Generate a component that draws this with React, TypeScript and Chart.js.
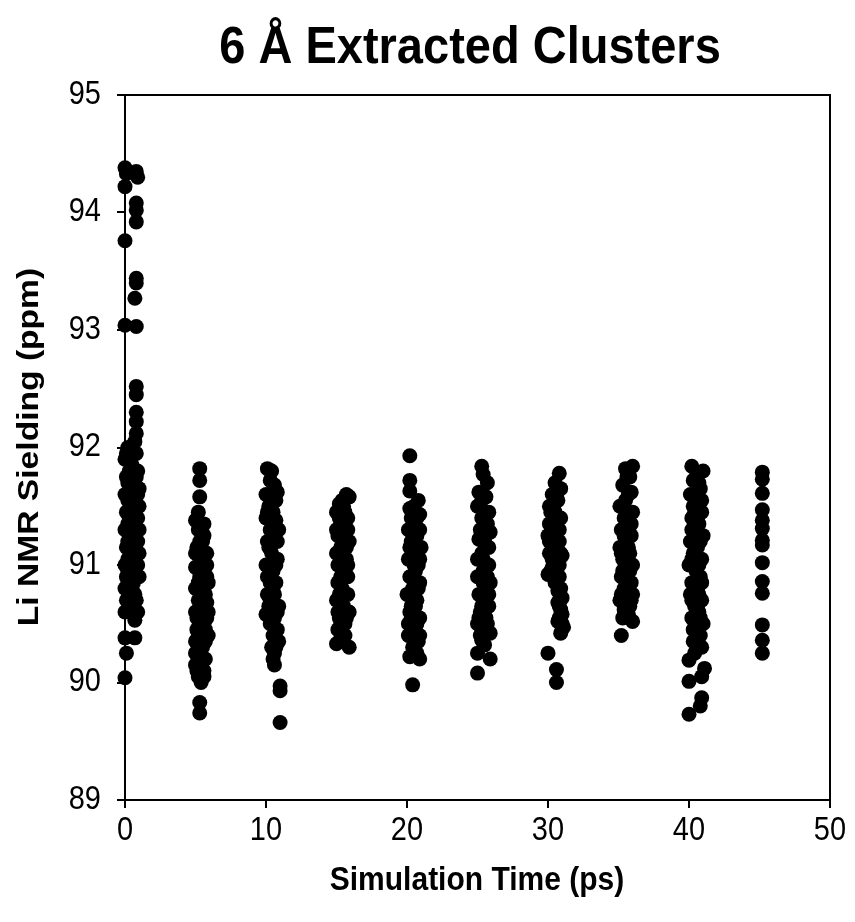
import React, { useEffect, useRef } from "react";
import { Chart, registerables } from "chart.js";

Chart.register(...registerables);

const TITLE = "6 Å Extracted Clusters";
const X_TITLE = "Simulation Time (ps)";
const Y_TITLE = "Li NMR Sielding (ppm)";

const X_MIN = 0;
const X_MAX = 50;
const X_STEP = 10;
const Y_MIN = 89;
const Y_MAX = 95;
const Y_STEP = 1;

type P = [number, number];

const cluster0: P[] = [
  [0.0, 94.38], [0.1, 94.33], [0.8, 94.35], [0.9, 94.3], [0.0, 94.22], [0.8, 94.08],
  [0.8, 94.02], [0.8, 93.92], [0.0, 93.76], [0.8, 93.44], [0.8, 93.4], [0.7, 93.27],
  [0.0, 93.04], [0.8, 93.03], [0.8, 92.52], [0.8, 92.45], [0.8, 92.3], [0.8, 92.22],
  [0.8, 92.12], [0.7, 92.05], [0.8, 91.95],
  [0.0, 91.9], [0.0, 91.6], [0.0, 91.3], [0.0, 91.0], [0.0, 90.8], [0.0, 90.6],
  [0.0, 90.38], [0.1, 90.25], [0.0, 90.04],
  [0.1, 91.75], [0.1, 91.45], [0.1, 91.15], [0.1, 90.9], [0.1, 90.7],
  [0.2, 92.0], [0.2, 91.55], [0.2, 91.2], [0.2, 90.85],
  [0.3, 91.8], [0.3, 91.4], [0.3, 91.05], [0.3, 90.75],
  [0.4, 91.65], [0.4, 91.25], [0.4, 90.95],
  [0.5, 91.85], [0.5, 91.5], [0.5, 91.1], [0.5, 90.8],
  [0.6, 91.7], [0.6, 91.35], [0.6, 91.0], [0.6, 90.65],
  [0.7, 91.6], [0.7, 91.2], [0.7, 90.9], [0.7, 90.53],
  [0.8, 91.5], [0.8, 91.1], [0.8, 90.7], [0.7, 90.38],
  [0.9, 91.8], [0.9, 91.4], [0.9, 91.0], [0.9, 90.6],
  [1.0, 91.65], [1.0, 91.3], [1.0, 90.9],
  [0.2, 91.7], [0.4, 91.9], [0.6, 91.95], [0.3, 91.6], [0.5, 91.3], [0.9, 91.6],
  [0.2, 90.95], [0.4, 90.7], [1.0, 91.1], [0.6, 90.85], [0.3, 90.6], [0.5, 90.65],
  [0.9, 91.2], [0.1, 91.95], [0.8, 91.75], [0.4, 91.45], [0.2, 91.35], [0.7, 91.45],
  [0.6, 91.15], [1.0, 91.5],
  [0.3, 91.25], [0.5, 90.95], [0.7, 91.05], [0.4, 91.1], [0.6, 91.55], [0.2, 91.05],
  [0.8, 91.3], [0.5, 91.7], [0.3, 90.9], [0.7, 90.75],
];

const cluster5: P[] = [
  [5.3, 91.82], [5.3, 91.72], [5.3, 91.58], [5.0, 91.38], [5.6, 91.35], [5.2, 91.3],
  [5.5, 91.2], [5.1, 91.15], [5.8, 91.1], [5.4, 91.05], [5.0, 90.98], [5.6, 90.95],
  [5.3, 90.9], [5.9, 90.85], [5.1, 90.8], [5.5, 90.75], [5.2, 90.7], [5.8, 90.68],
  [5.0, 90.6], [5.4, 90.58], [5.6, 90.5], [5.1, 90.45], [5.3, 90.42], [5.9, 90.4],
  [5.0, 90.35], [5.5, 90.3], [5.2, 90.25], [5.7, 90.2], [5.3, 90.15], [5.1, 90.1],
  [5.6, 90.05], [5.4, 90.0], [5.3, 89.83], [5.3, 89.74], [5.7, 91.0], [5.2, 91.12],
  [5.8, 90.55], [5.0, 90.25],
  [5.2, 91.45], [5.4, 91.3], [5.6, 91.25], [5.0, 91.1], [5.8, 90.9], [5.2, 90.85],
  [5.5, 90.9], [5.0, 90.8], [5.7, 90.75], [5.3, 90.65], [5.9, 90.6], [5.1, 90.55],
  [5.5, 90.45], [5.7, 90.35], [5.2, 90.4], [5.4, 90.2], [5.0, 90.15], [5.6, 90.1],
  [5.2, 90.05], [5.5, 90.55], [5.8, 91.0], [5.4, 91.15],
  [5.3, 91.2], [5.6, 90.65], [5.4, 90.8], [5.3, 90.3], [5.7, 90.45], [5.5, 91.05],
];

const cluster10: P[] = [
  [10.1, 91.82], [10.3, 91.72], [10.6, 91.68], [10.8, 91.62], [10.0, 91.6], [10.2, 91.5],
  [10.5, 91.45], [10.0, 91.4], [10.7, 91.38], [10.3, 91.3], [10.1, 91.2], [10.6, 91.22],
  [10.4, 91.1], [10.8, 91.05], [10.0, 91.0], [10.5, 90.95], [10.2, 90.9], [10.7, 90.85],
  [10.1, 90.75], [10.4, 90.7], [10.9, 90.65], [10.0, 90.58], [10.6, 90.55], [10.3, 90.5],
  [10.8, 90.45], [10.5, 90.4], [10.9, 90.35], [10.7, 90.3], [10.5, 90.2], [10.6, 90.15],
  [11.0, 89.97], [11.0, 89.93], [11.0, 89.66], [10.2, 91.0], [10.9, 91.3],
  [10.4, 91.8], [10.7, 91.55], [10.3, 91.6], [10.1, 91.45], [10.6, 91.35], [10.8, 91.2],
  [10.2, 91.15], [10.5, 91.05], [10.7, 91.0], [10.3, 90.85], [10.6, 90.75], [10.2, 90.65],
  [10.8, 90.6], [10.4, 90.6], [10.5, 90.5], [10.7, 90.45], [10.4, 90.3], [10.6, 90.25],
  [10.8, 90.35], [10.1, 90.9],
  [10.4, 91.4], [10.3, 91.15], [10.5, 90.8], [10.3, 90.7],
];

const cluster15: P[] = [
  [15.7, 91.6], [15.9, 91.58], [15.2, 91.52], [15.5, 91.5], [15.0, 91.45], [15.8, 91.4],
  [15.3, 91.35], [15.6, 91.3], [15.1, 91.25], [15.9, 91.2], [15.4, 91.15], [15.0, 91.1],
  [15.7, 91.05], [15.2, 91.0], [15.5, 90.95], [15.8, 90.9], [15.1, 90.85], [15.4, 90.8],
  [15.6, 90.75], [15.0, 90.7], [15.3, 90.65], [15.9, 90.6], [15.2, 90.55], [15.6, 90.5],
  [15.1, 90.45], [15.4, 90.4], [15.0, 90.33], [15.9, 90.3], [15.5, 91.2], [15.3, 90.9],
  [15.4, 91.55], [15.6, 91.45], [15.2, 91.4], [15.8, 91.3], [15.0, 91.3], [15.3, 91.15],
  [15.7, 91.15], [15.1, 91.0], [15.5, 91.05], [15.8, 90.75], [15.2, 90.75], [15.5, 90.65],
  [15.7, 90.55], [15.3, 90.5], [15.6, 90.4], [15.2, 90.35], [15.8, 91.0], [15.1, 90.6],
];

const cluster20: P[] = [
  [20.2, 91.93], [20.2, 91.72], [20.2, 91.63], [20.8, 91.55], [20.2, 91.48], [20.9, 91.43],
  [20.5, 91.38], [20.1, 91.3], [20.7, 91.25], [20.3, 91.2], [21.0, 91.15], [20.4, 91.1],
  [20.1, 91.05], [20.8, 91.0], [20.6, 90.95], [20.2, 90.9], [20.9, 90.85], [20.4, 90.8],
  [20.0, 90.75], [20.7, 90.7], [20.3, 90.65], [20.5, 90.6], [20.9, 90.55], [20.1, 90.5],
  [20.6, 90.45], [20.3, 90.4], [20.8, 90.35], [20.4, 90.3], [20.2, 90.22], [20.9, 90.2],
  [20.4, 89.98], [20.6, 91.1], [20.3, 90.55],
  [20.5, 91.5], [20.3, 91.4], [20.6, 91.3], [20.9, 91.3], [20.2, 91.15], [20.5, 91.0],
  [20.8, 90.8], [20.3, 90.75], [20.6, 90.65], [20.2, 90.6], [20.7, 90.5], [20.4, 90.45],
  [20.9, 90.4], [20.5, 90.35], [20.7, 90.25], [20.1, 90.4], [20.4, 90.9], [20.9, 91.05],
  [20.6, 90.85], [20.5, 91.2], [20.7, 91.4],
];

const cluster25: P[] = [
  [25.3, 91.84], [25.4, 91.77], [25.7, 91.7], [25.1, 91.62], [25.6, 91.58], [25.0, 91.5],
  [25.8, 91.45], [25.3, 91.4], [25.5, 91.32], [25.9, 91.28], [25.1, 91.22], [25.6, 91.15],
  [25.3, 91.1], [25.0, 91.05], [25.8, 91.0], [25.4, 90.95], [25.2, 90.9], [25.9, 90.85],
  [25.6, 90.8], [25.1, 90.75], [25.4, 90.7], [25.8, 90.65], [25.2, 90.6], [25.6, 90.55],
  [25.0, 90.5], [25.3, 90.45], [25.9, 90.42], [25.3, 90.36], [25.0, 90.25], [25.9, 90.2],
  [25.0, 90.08], [25.5, 91.2], [25.7, 90.9],
  [25.3, 91.55], [25.6, 91.45], [25.2, 91.3], [25.7, 91.35], [25.4, 91.2], [25.8, 91.15],
  [25.2, 91.05], [25.6, 91.0], [25.4, 90.85], [25.8, 90.75], [25.3, 90.65], [25.6, 90.65],
  [25.1, 90.55], [25.5, 90.45], [25.7, 90.5], [25.2, 90.4], [25.5, 90.32], [25.0, 90.9],
  [25.5, 90.75], [25.4, 91.05],
];

const cluster30: P[] = [
  [30.8, 91.78], [30.5, 91.7], [30.9, 91.65], [30.3, 91.6], [30.7, 91.55], [30.1, 91.5],
  [30.5, 91.45], [30.9, 91.4], [30.2, 91.35], [30.6, 91.3], [30.0, 91.25], [30.8, 91.2],
  [30.4, 91.15], [30.1, 91.1], [31.0, 91.08], [30.6, 91.02], [30.3, 90.98], [30.0, 90.92],
  [30.8, 90.9], [30.5, 90.85], [30.7, 90.78], [31.0, 90.72], [30.8, 90.65], [31.0, 90.58],
  [30.7, 90.52], [31.1, 90.47], [30.9, 90.42], [30.0, 90.25], [30.6, 90.11], [30.6, 90.0],
  [30.4, 91.0], [30.9, 91.1],
  [30.6, 91.6], [30.4, 91.5], [30.2, 91.45], [30.8, 91.3], [30.4, 91.3], [30.1, 91.2],
  [30.6, 91.15], [30.3, 91.05], [30.8, 91.0], [30.2, 90.95], [30.6, 90.9], [30.5, 91.1],
  [30.9, 90.8], [30.8, 90.55], [31.0, 90.5], [30.9, 90.62], [30.7, 90.68], [30.1, 91.35],
];

const cluster35: P[] = [
  [35.5, 91.82], [36.0, 91.84], [35.8, 91.75], [35.3, 91.68], [35.9, 91.62], [35.5, 91.55],
  [35.1, 91.5], [36.0, 91.45], [35.4, 91.4], [35.7, 91.35], [35.2, 91.3], [35.9, 91.25],
  [35.5, 91.2], [35.1, 91.15], [35.8, 91.1], [35.3, 91.05], [36.0, 91.0], [35.6, 90.95],
  [35.2, 90.9], [35.9, 90.85], [35.4, 90.8], [35.7, 90.75], [35.1, 90.7], [35.8, 90.65],
  [35.5, 90.6], [36.0, 90.52], [35.2, 90.4], [35.6, 91.3], [35.3, 90.7],
  [35.6, 91.75], [35.7, 91.6], [35.3, 91.5], [35.8, 91.45], [35.4, 91.25], [35.9, 91.35],
  [35.2, 91.1], [35.7, 91.15], [35.5, 91.05], [35.3, 90.95], [35.8, 90.95], [35.6, 90.8],
  [35.2, 90.75], [35.9, 90.7], [35.4, 90.62], [35.7, 90.58], [36.0, 90.75], [35.3, 90.55],
];

const cluster40: P[] = [
  [40.2, 91.84], [41.0, 91.8], [40.3, 91.72], [40.8, 91.65], [40.1, 91.6], [40.6, 91.55],
  [40.3, 91.5], [40.9, 91.45], [40.2, 91.4], [40.7, 91.35], [40.4, 91.3], [41.0, 91.25],
  [40.1, 91.2], [40.6, 91.15], [40.3, 91.1], [40.9, 91.05], [40.0, 91.0], [40.5, 90.95],
  [40.8, 90.9], [40.2, 90.85], [40.6, 90.8], [40.1, 90.75], [40.9, 90.7], [40.4, 90.65],
  [40.7, 90.6], [40.2, 90.55], [41.0, 90.5], [40.5, 90.45], [40.8, 90.4], [40.3, 90.35],
  [40.7, 90.3], [40.0, 90.19], [41.1, 90.12], [40.9, 90.05], [40.0, 90.01], [40.9, 89.87],
  [40.8, 89.8], [40.0, 89.73],
  [40.5, 91.75], [40.7, 91.7], [40.4, 91.6], [40.9, 91.55], [40.2, 91.3], [40.6, 91.4],
  [40.8, 91.2], [40.4, 91.0], [40.7, 91.0], [40.2, 91.05], [40.9, 90.85], [40.4, 90.8],
  [40.7, 90.75], [40.2, 90.7], [40.5, 90.55], [40.8, 90.55], [40.3, 90.45], [40.6, 90.35],
  [40.9, 90.3], [40.4, 90.25],
  [40.5, 91.2], [40.6, 90.65], [40.4, 91.45],
];

const cluster45: P[] = [
  [45.2, 91.79], [45.2, 91.73], [45.2, 91.61], [45.2, 91.47], [45.2, 91.38], [45.2, 91.31],
  [45.2, 91.21], [45.2, 91.17], [45.2, 91.02], [45.2, 90.86], [45.2, 90.76], [45.2, 90.49],
  [45.2, 90.36], [45.2, 90.25],
];

const clusters: P[][] = [
  cluster0, cluster5, cluster10, cluster15, cluster20,
  cluster25, cluster30, cluster35, cluster40, cluster45,
];

const FONT = "'Liberation Sans', Arial, Helvetica, sans-serif";
const W = 855;
const H = 922;
const AREA = { left: 125, right: 830, top: 95, bottom: 800 };
const VSTRETCH = 1.12;

function stretchedText(ctx: any, text: string, x: number, y: number, sx: number, sy: number, rot = 0) {
  ctx.save();
  ctx.translate(x, y);
  if (rot) ctx.rotate(rot);
  ctx.scale(sx, sy);
  ctx.fillText(text, 0, 0);
  ctx.restore();
}

const framePlugin = {
  id: "frame",
  afterDatasetsDraw(chart: any) {
    const { ctx, chartArea, scales } = chart;
    ctx.save();
    ctx.strokeStyle = "#000";
    ctx.lineWidth = 2;
    ctx.strokeRect(chartArea.left, chartArea.top, chartArea.right - chartArea.left, chartArea.bottom - chartArea.top);
    ctx.fillStyle = "#000";
    ctx.textBaseline = "middle";

    ctx.font = `29px ${FONT}`;
    ctx.textAlign = "right";
    for (const t of scales.y.ticks) {
      const py = scales.y.getPixelForValue(t.value);
      stretchedText(ctx, String(t.value), 101, py, 1, VSTRETCH);
    }
    ctx.textAlign = "center";
    for (const t of scales.x.ticks) {
      const px = scales.x.getPixelForValue(t.value);
      stretchedText(ctx, String(t.value), px, 831, 1, VSTRETCH);
    }

    ctx.font = `bold 47px ${FONT}`;
    stretchedText(ctx, TITLE, 470, 48, 1, VSTRETCH);
    ctx.font = `bold 30px ${FONT}`;
    stretchedText(ctx, X_TITLE, 477, 881, 1, VSTRETCH);
    stretchedText(ctx, Y_TITLE, 30, 447, VSTRETCH, 1, -Math.PI / 2);
    ctx.restore();
  },
};

export default function App() {
  const ref = useRef<HTMLCanvasElement | null>(null);
  useEffect(() => {
    if (!ref.current) return;
    const chart = new Chart(ref.current, {
      type: "scatter",
      data: {
        datasets: clusters.map((c, i) => ({
          label: `c${i}`,
          data: c.map(([x, y]) => ({ x, y })),
          backgroundColor: "#000",
          borderColor: "#000",
          pointRadius: 7.5,
          pointHoverRadius: 7.5,
          borderWidth: 0,
          clip: false as any,
        })),
      },
      options: {
        animation: false,
        responsive: false,
        maintainAspectRatio: false,
        layout: { padding: { left: 0, top: AREA.top, right: W - AREA.right, bottom: 0 } },
        plugins: {
          legend: { display: false },
          title: { display: false },
          tooltip: { enabled: false },
        },
        scales: {
          x: {
            type: "linear",
            min: X_MIN,
            max: X_MAX,
            ticks: { stepSize: X_STEP, display: false },
            grid: { display: true, drawOnChartArea: false, drawTicks: true, tickLength: 8, color: "#000", lineWidth: 2 },
            border: { display: true, color: "#000", width: 2 },
            afterFit: (s: any) => { s.height = H - AREA.bottom; },
          },
          y: {
            type: "linear",
            min: Y_MIN,
            max: Y_MAX,
            ticks: { stepSize: Y_STEP, display: false },
            grid: { display: true, drawOnChartArea: false, drawTicks: true, tickLength: 8, color: "#000", lineWidth: 2 },
            border: { display: true, color: "#000", width: 2 },
            afterFit: (s: any) => { s.width = AREA.left; },
          },
        },
      },
      plugins: [framePlugin],
    });
    return () => chart.destroy();
  }, []);
  return (
    <div style={{ position: "fixed", left: 0, top: 0, width: W, height: H, background: "#fff" }}>
      <canvas ref={ref} width={W} height={H} style={{ width: W, height: H, display: "block" }} />
    </div>
  );
}
